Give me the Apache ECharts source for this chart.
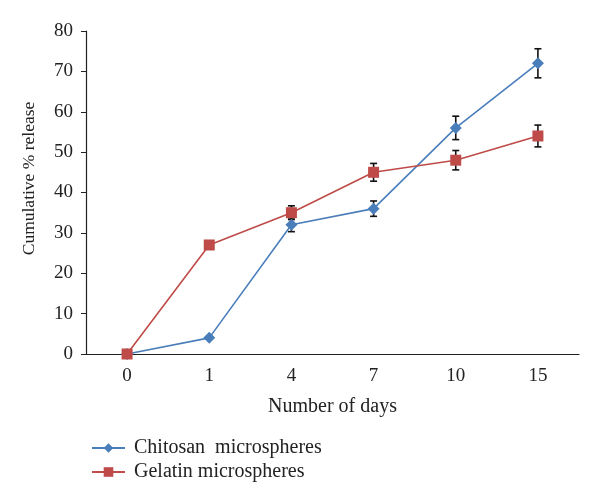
<!DOCTYPE html>
<html>
<head>
<meta charset="utf-8">
<script src="https://cdn.jsdelivr.net/npm/echarts@6/dist/echarts.min.js"></script>
<style>
  html, body { margin: 0; padding: 0; background: #fff; }
  #chart { width: 600px; height: 504px; }
</style>
</head>
<body>
<div id="chart"></div>
<script>
const days = ['0', '1', '4', '7', '10', '15']
const chitosan = [0, 4, 32, 36, 56, 72]
const chitosanErr = [0, 0, 1.7, 1.9, 2.9, 3.6]
const gelatin = [0, 27, 35, 45, 48, 54]
const gelatinErr = [0, 0.7, 1.7, 2.2, 2.4, 2.7]

const FONT = "'Liberation Serif', 'Times New Roman', serif"
const BLUE = '#4a7ebb'
const RED = '#be4b48'

// error bars: [x index, low, high]
const errData = (vals, errs) => vals.map((v, i) => [i, v - errs[i], v + errs[i]])

const renderErr = (params, api) => {
  const lo = api.coord([api.value(0), api.value(1)])
  const hi = api.coord([api.value(0), api.value(2)])
  if (hi[1] === lo[1]) return
  const w = 3.5
  const style = { stroke: '#111', lineWidth: 1.6 }
  return {
    type: 'group',
    children: [
      { type: 'line', shape: { x1: lo[0], y1: lo[1], x2: hi[0], y2: hi[1] }, style },
      { type: 'line', shape: { x1: lo[0] - w, y1: lo[1], x2: lo[0] + w, y2: lo[1] }, style },
      { type: 'line', shape: { x1: hi[0] - w, y1: hi[1], x2: hi[0] + w, y2: hi[1] }, style }
    ]
  }
}

const chart = echarts.init(document.getElementById('chart'))
chart.setOption({
  backgroundColor: '#fff',
  animation: false,
  textStyle: { fontFamily: FONT, color: '#222' },
  grid: { left: 86, right: 21, top: 31, bottom: 150 },
  legend: {
    orient: 'vertical',
    left: 86,
    top: 433,
    itemGap: 4,
    itemWidth: 33,
    itemHeight: 12,
    data: ['Chitosan  microspheres', 'Gelatin microspheres'],
    textStyle: { fontFamily: FONT, fontSize: 20, color: '#222', padding: [0, 0, 0, 4] }
  },
  xAxis: {
    type: 'category',
    data: days,
    boundaryGap: true,
    name: 'Number of days',
    nameLocation: 'middle',
    nameGap: 43,
    nameTextStyle: { fontFamily: FONT, fontSize: 20, color: '#222' },
    axisLine: { lineStyle: { color: '#222', width: 1.2 } },
    axisTick: { length: 5, lineStyle: { color: '#222' } },
    axisLabel: { margin: 13, fontFamily: FONT, fontSize: 19, color: '#222' },
    splitLine: { show: false }
  },
  yAxis: {
    type: 'value',
    min: 0,
    max: 80,
    interval: 10,
    name: 'Cumulative % release',
    nameLocation: 'middle',
    nameGap: 48,
    nameTextStyle: { fontFamily: FONT, fontSize: 17.5, color: '#222', padding: [0, 0, 0, 28] },
    axisLine: { show: true, lineStyle: { color: '#222', width: 1.2 } },
    axisTick: { show: true, length: 5, lineStyle: { color: '#222' } },
    axisLabel: { margin: 13, fontFamily: FONT, fontSize: 19, color: '#222' },
    splitLine: { show: false }
  },
  series: [
    {
      name: 'chitosanErr',
      type: 'custom',
      z: 1,
      renderItem: renderErr,
      data: errData(chitosan, chitosanErr),
      encode: { x: 0, y: [1, 2] }
    },
    {
      name: 'gelatinErr',
      type: 'custom',
      z: 1,
      renderItem: renderErr,
      data: errData(gelatin, gelatinErr),
      encode: { x: 0, y: [1, 2] }
    },
    {
      name: 'Chitosan  microspheres',
      type: 'line',
      z: 3,
      data: chitosan,
      symbol: 'diamond',
      symbolSize: 12,
      showAllSymbol: true,
      lineStyle: { color: BLUE, width: 1.6 },
      itemStyle: { color: BLUE }
    },
    {
      name: 'Gelatin microspheres',
      type: 'line',
      z: 4,
      data: gelatin,
      symbol: 'rect',
      symbolSize: 11,
      showAllSymbol: true,
      lineStyle: { color: RED, width: 1.6 },
      itemStyle: { color: RED }
    }
  ]
})
</script>
</body>
</html>
